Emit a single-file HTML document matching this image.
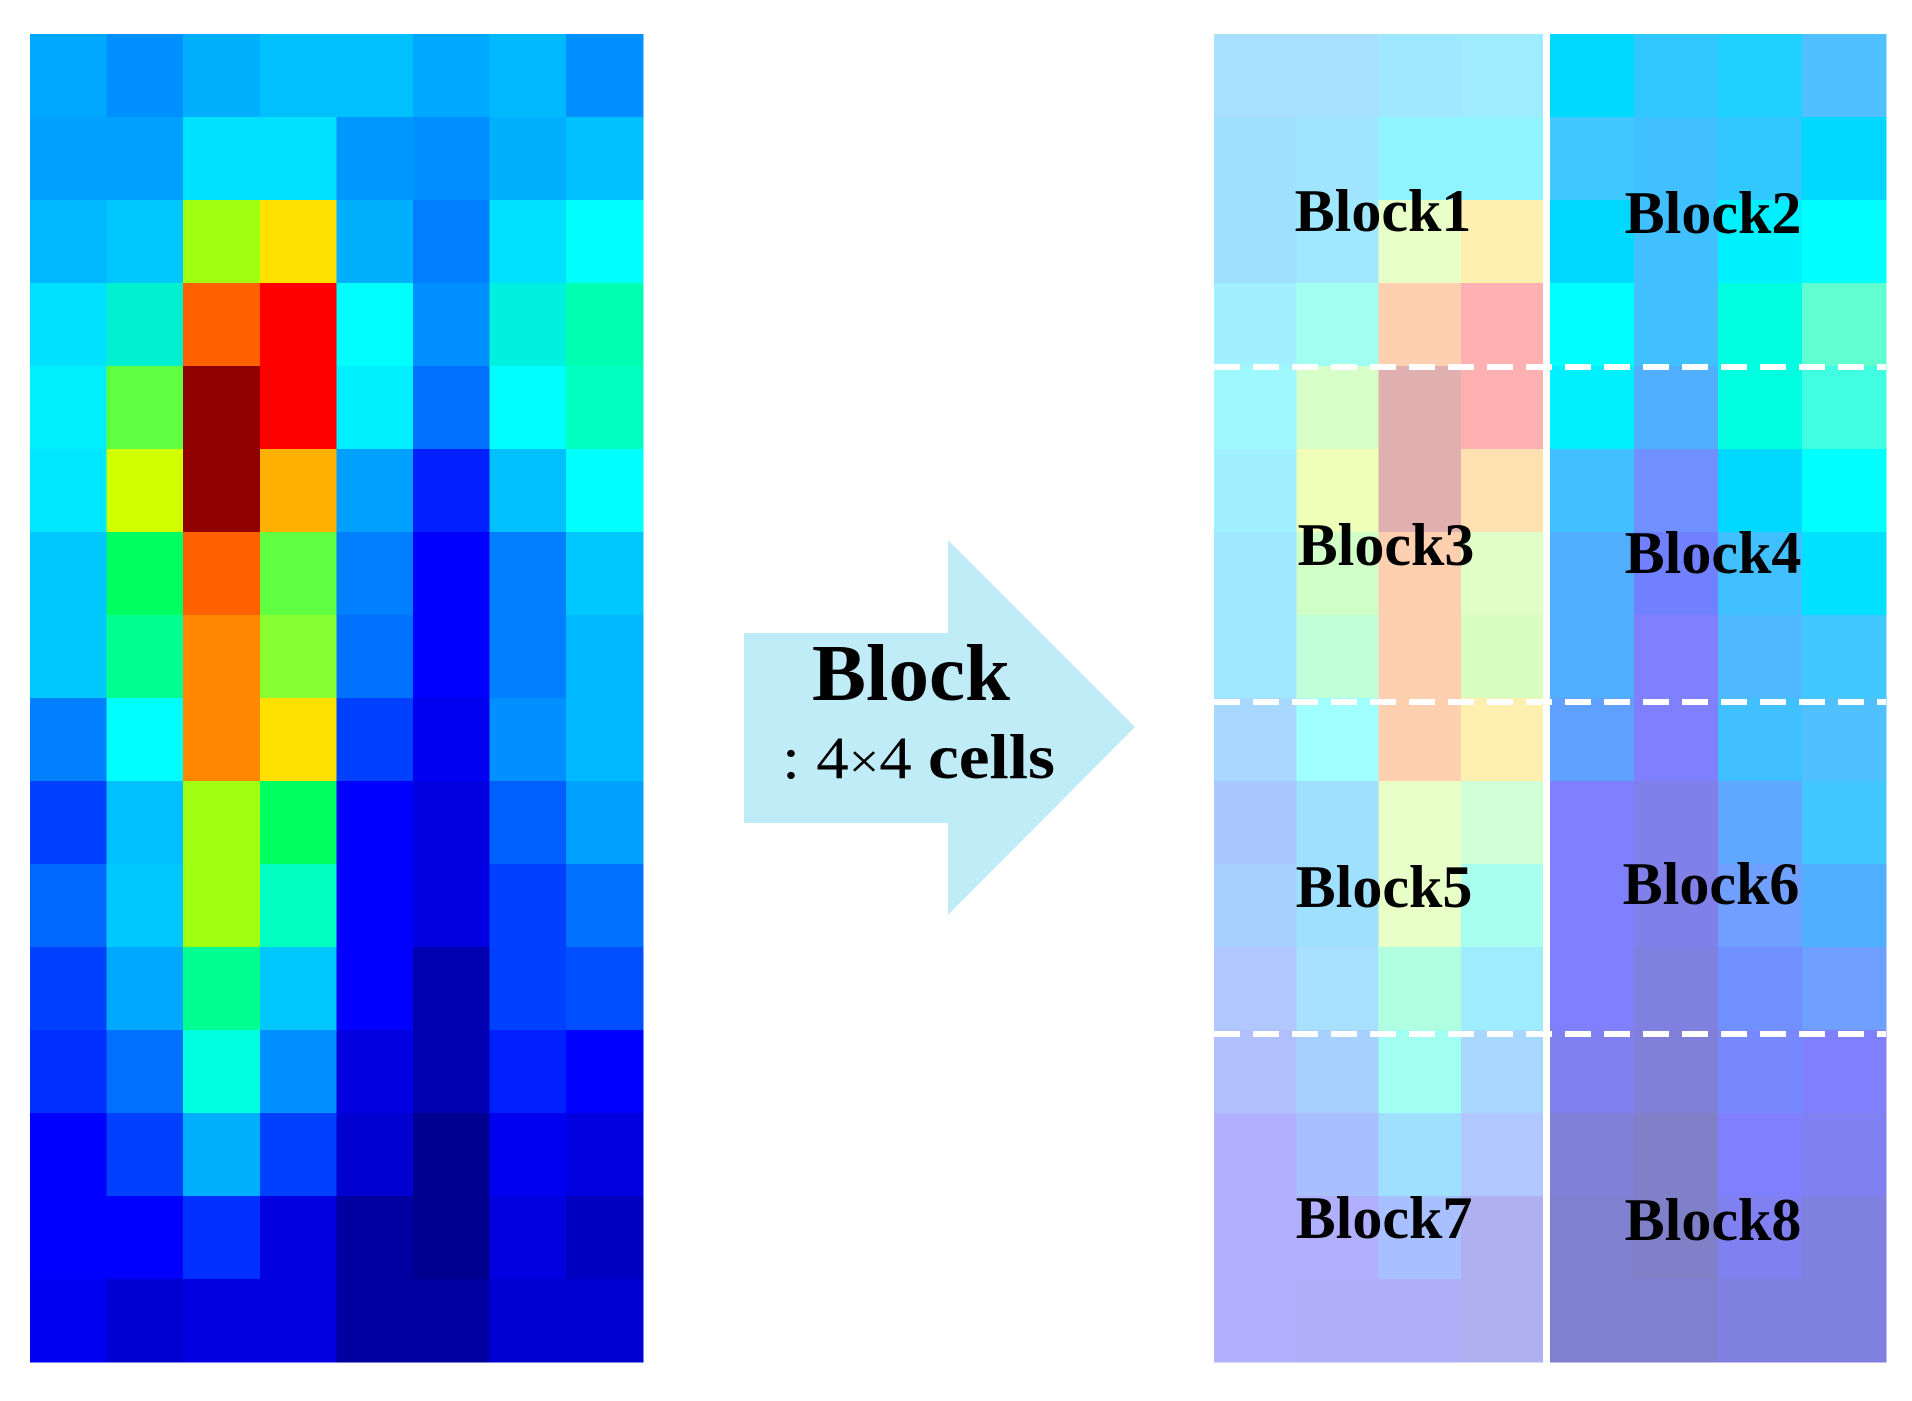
<!DOCTYPE html>
<html><head><meta charset="utf-8"><style>html,body{margin:0;padding:0;background:#fff;width:1912px;height:1401px;overflow:hidden}</style></head>
<body>
<svg id="s" width="1912" height="1401" xmlns="http://www.w3.org/2000/svg" style="display:block">
<g id="L" shape-rendering="crispEdges"></g>
<g id="R" shape-rendering="crispEdges"></g>
<rect x="1543" y="34" width="7" height="1328" fill="#fff"/>
<g stroke="#fff" stroke-width="6" stroke-dasharray="26 13">
<line x1="1214" y1="367" x2="1886" y2="367"/>
<line x1="1214" y1="702" x2="1886" y2="702"/>
<line x1="1214" y1="1034" x2="1886" y2="1034"/>
</g>
<g font-family="Liberation Serif, serif" font-weight="bold" font-size="60" text-anchor="middle" fill="#000">
<text x="1383" y="231">Block1</text>
<text x="1713" y="233">Block2</text>
<text x="1386" y="565">Block3</text>
<text x="1713" y="573">Block4</text>
<text x="1384" y="907">Block5</text>
<text x="1711" y="904">Block6</text>
<text x="1384" y="1238">Block7</text>
<text x="1713" y="1240">Block8</text>
</g>
<polygon points="744,633 948,633 948,540 1135,727 948,915 948,823 744,823" fill="#c0ecf8"/>
<text x="812" y="700" font-family="Liberation Serif, serif" font-weight="bold" font-size="80" textLength="198" lengthAdjust="spacingAndGlyphs">Block</text>
<text x="782" y="778" font-family="Liberation Serif, serif" font-size="60" textLength="273" lengthAdjust="spacingAndGlyphs">: 4<tspan font-size="50">×</tspan>4 <tspan font-weight="bold" font-size="64">cells</tspan></text>
</svg>
<script>
var H=[
"00a8ff 0090ff 00b0ff 00c0ff 00c0ff 00a8ff 00b8ff 0090ff",
"00a0ff 00a0ff 00e0ff 00e0ff 0098ff 0090ff 00b0ff 00c0ff",
"00b8ff 00c8ff a0ff10 ffe000 00b0ff 0080ff 00e0ff 00ffff",
"00e0ff 00f0d0 ff6000 ff0000 00ffff 0090ff 00f0e0 00ffb0",
"00f0ff 60ff40 900000 ff0000 00f0ff 0070ff 00ffff 00ffc0",
"00e8ff d0ff00 900000 ffb000 00a0ff 0020ff 00c0ff 00ffff",
"00c8ff 00ff60 ff6000 60ff40 0080ff 0000ff 0080ff 00c8ff",
"00c8ff 00ff90 ff8800 88ff30 0070ff 0000ff 0080ff 00b8ff",
"0080ff 00ffff ff8800 ffe000 0040ff 0000f0 0090ff 00b8ff",
"0040ff 00c0ff a0ff10 00ff60 0000ff 0000e0 0060ff 00a0ff",
"0068ff 00c8ff a0ff10 00ffc0 0000ff 0000e0 0040ff 0070ff",
"0040ff 00a8ff 00ff90 00c8ff 0000ff 0000b0 0040ff 0050ff",
"0030ff 0070ff 00ffe0 0090ff 0000e0 0000b0 0020ff 0000ff",
"0000ff 0040ff 00b0ff 0040ff 0000d0 000090 0000f0 0000e0",
"0000ff 0000ff 0030ff 0000e0 0000a0 000090 0000e0 0000c0",
"0000f0 0000d0 0000e0 0000e0 0000a0 0000a0 0000d0 0000d0"];
var R=[
"a8e0ff a8e0ff a0e8ff a0ecff 00d8ff 30c8ff 20d0ff 50c0ff",
"a0e0ff a0e4ff 90f4ff 90f4ff 40c8ff 40c0ff 30c8ff 00d8ff",
"a0e0ff a0e8ff e8ffc8 fff0b0 00d8ff 40c0ff 00f0ff 00ffff",
"a0f0ff a0fff0 ffd0b0 ffb0b0 00ffff 40c0ff 00ffe0 60ffd0",
"a0f8ff d8ffc8 e0b0b0 ffb0b0 00f0ff 50b0ff 00ffe0 40ffe0",
"a0f0ff f0ffb8 e0b0b0 ffe0b0 40c0ff 7090ff 00d8ff 00ffff",
"a0e8ff d0ffc8 ffd0b0 e0ffc8 50b0ff 7080ff 40c0ff 00e0ff",
"a0e8ff c0ffd8 ffd0b0 d8ffc0 50b0ff 8080ff 50b8ff 40c8ff",
"a8d8ff a0ffff ffd0b0 fff0b0 60a0ff 8080ff 40c0ff 50c0ff",
"a8c8ff a0e0ff e8ffc8 d0ffd8 8080ff 8080e8 60a8ff 40c8ff",
"a8d0ff a0e0ff e8ffc8 a8fff0 8080ff 8080e8 70a0ff 50b0ff",
"b0c8ff a8e0ff b0ffe0 a0ecff 8080ff 8080e0 7090ff 70a0ff",
"b0c0ff a8d0ff a0fff0 a8d8ff 8080f0 8080d8 7888ff 8080ff",
"b0b0ff a8c0ff a0e0ff b0c8ff 8080d8 8080c8 8080ff 8080f0",
"b0b0ff b0b0ff a8c0ff b0b0f0 8080d0 8080c8 8080f0 8080e0",
"b0b0ff b0b0f8 b0b0f8 b0b0f0 8080d0 8080d0 8080e0 8080e0"];
function mk(g,x,y,w,h,c){var r=document.createElementNS("http://www.w3.org/2000/svg","rect");r.setAttribute("x",x);r.setAttribute("y",y);r.setAttribute("width",w+0.6);r.setAttribute("height",h+0.6);r.setAttribute("fill","#"+c);g.appendChild(r);}
var gl=document.getElementById("L"),gr=document.getElementById("R");
for(var i=0;i<16;i++){var a=H[i].split(" "),b=R[i].split(" ");
for(var j=0;j<8;j++){mk(gl,30+j*76.6,34+i*83,76.6,83,a[j]);
var x=j<4?1214+j*82.25:1550+(j-4)*84;mk(gr,x,34+i*83,j<4?82.25:84,83,b[j]);}}
</script>
</body></html>
